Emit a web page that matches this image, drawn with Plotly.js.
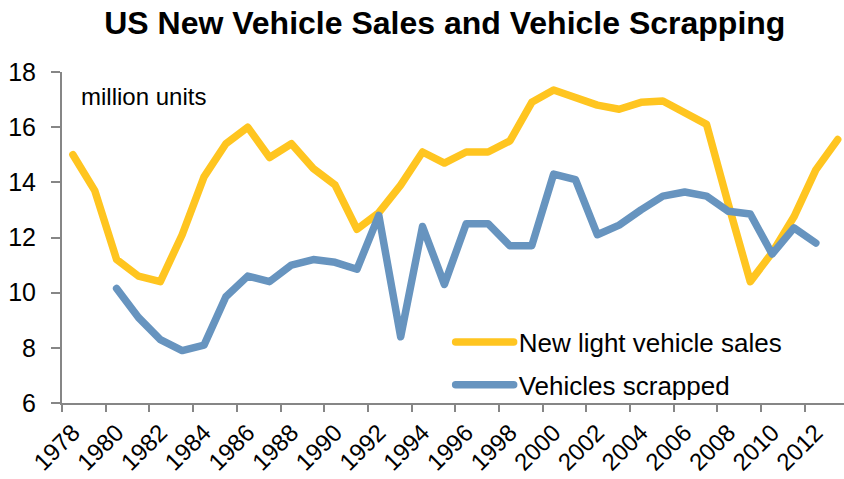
<!DOCTYPE html>
<html>
<head>
<meta charset="utf-8">
<script src="https://cdn.plot.ly/plotly-3.0.1.min.js"></script>
<style>
html,body{margin:0;padding:0;background:#fff;}#chart{width:844px;height:479px;}
.scatterlayer .js-line, .legendlines path {stroke-linecap: round; stroke-linejoin: round;}
</style>
</head>
<body>
<div id="chart"></div>
<script>
const salesYears = [1978,1979,1980,1981,1982,1983,1984,1985,1986,1987,1988,1989,1990,1991,1992,1993,1994,1995,1996,1997,1998,1999,2000,2001,2002,2003,2004,2005,2006,2007,2008,2009,2010,2011,2012,2013];
const newLightVehicleSales = [15.0,13.7,11.2,10.6,10.4,12.1,14.2,15.4,16.0,14.9,15.4,14.5,13.9,12.3,12.9,13.9,15.1,14.7,15.1,15.1,15.5,16.9,17.35,17.1,16.8,16.65,16.9,16.95,16.5,16.1,13.2,10.4,11.45,12.75,14.45,15.55];
const scrapYears = [1980,1981,1982,1983,1984,1985,1986,1987,1988,1989,1990,1991,1992,1993,1994,1995,1996,1997,1998,1999,2000,2001,2002,2003,2004,2005,2006,2007,2008,2009,2010,2011,2012];
const vehiclesScrapped = [10.15,9.1,8.3,7.9,8.1,9.85,10.6,10.4,11.0,11.2,11.1,10.85,12.8,8.4,12.4,10.3,12.5,12.5,11.7,11.7,14.3,14.1,12.1,12.45,13.0,13.5,13.65,13.5,12.95,12.85,11.4,12.35,11.8];
const xTickYears = [1978,1980,1982,1984,1986,1988,1990,1992,1994,1996,1998,2000,2002,2004,2006,2008,2010,2012];
const xTickLabels = xTickYears.map(String);
const yTicks = [6,8,10,12,14,16,18];

const FONT = 'Liberation Sans, Arial, sans-serif';
const traces = [
  {x: salesYears, y: newLightVehicleSales, type: 'scatter', mode: 'lines', name: 'New light vehicle sales',
   legendgroup: 'a', line: {color: '#FFC520', width: 7.5}},
  {x: scrapYears, y: vehiclesScrapped, type: 'scatter', mode: 'lines', name: 'Vehicles scrapped',
   legendgroup: 'b', line: {color: '#6794BF', width: 7.5}}
];
const layout = {
  width: 844, height: 479,
  margin: {l: 62, r: 0, t: 72, b: 76},
  paper_bgcolor: '#fff', plot_bgcolor: '#fff',
  font: {family: FONT, color: '#000'},
  title: {text: '<b>US New Vehicle Sales and Vehicle Scrapping</b>', x: 0.527, xanchor: 'center',
          y: 0.952, yref: 'container', yanchor: 'middle', font: {size: 32, family: FONT, color: '#000'}},
  xaxis: {range: [1977.5, 2013.29], tickvals: xTickYears, ticktext: xTickLabels, tickangle: -45,
          ticks: '', showgrid: false, zeroline: false, showline: true, linecolor: '#868686', linewidth: 2,
          tickfont: {size: 24, family: FONT}, ticklabelstandoff: 4,
          minor: {tick0: 1977.5, dtick: 2, ticks: 'outside', ticklen: 7, tickcolor: '#868686', tickwidth: 2, showgrid: false}},
  yaxis: {range: [6, 18], tickvals: yTicks, ticks: 'outside', ticklen: 9, tickcolor: '#868686', tickwidth: 2,
          showgrid: false, zeroline: false, showline: true, linecolor: '#868686', linewidth: 2,
          tickfont: {size: 25, family: FONT}, ticklabelstandoff: 10},
  showlegend: true,
  legend: {x: 0.497, y: 0.255, xanchor: 'left', yanchor: 'top', bgcolor: 'rgba(0,0,0,0)',
           font: {size: 26, family: FONT}, tracegroupgap: 6, itemwidth: 58},
  annotations: [{text: 'million units', xref: 'paper', yref: 'paper', x: 0.022, y: 0.927,
                 xanchor: 'left', yanchor: 'middle', showarrow: false, font: {size: 24, family: FONT}}]
};
Plotly.newPlot('chart', traces, layout, {staticPlot: true});
</script>
</body>
</html>
